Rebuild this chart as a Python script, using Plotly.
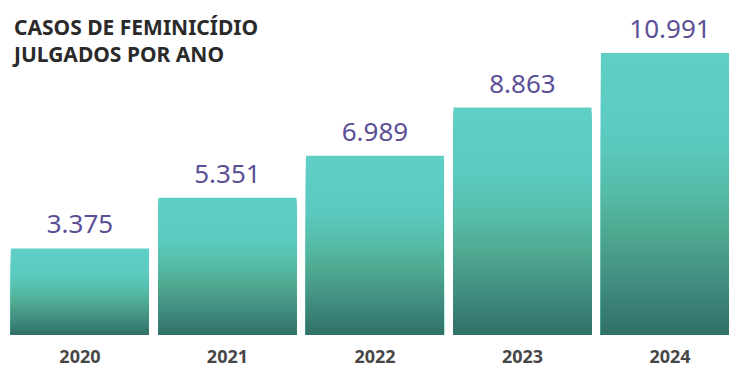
import plotly.graph_objects as go

years = ["2020", "2021", "2022", "2023", "2024"]
cases = [3375, 5351, 6989, 8863, 10991]
labels = ["3.375", "5.351", "6.989", "8.863", "10.991"]

# gradient stops: fraction from top of bar -> colour
stops = [(0.0, (95, 207, 198)), (0.3, (92, 202, 192)), (0.5, (85, 187, 166)),
         (0.65, (78, 166, 142)), (0.8, (67, 143, 130)), (1.0, (48, 112, 102))]

def color_at(f):
    for (f0, c0), (f1, c1) in zip(stops[:-1], stops[1:]):
        if f0 <= f <= f1:
            t = (f - f0) / (f1 - f0) if f1 > f0 else 0
            c = [round(a + (b - a) * t) for a, b in zip(c0, c1)]
            return "rgb(%d,%d,%d)" % tuple(c)
    return "rgb(%d,%d,%d)" % stops[-1][1]

N = 60
fig = go.Figure()
xs = list(range(len(years)))
# nested bars: full bar first (top colour), progressively shorter darker ones on top
for j in range(N):
    share = (N - j) / N
    fig.add_trace(go.Bar(
        x=xs,
        y=[v * share for v in cases],
        marker=dict(color=color_at((j + 0.5) / N), line=dict(width=0)),
        width=0.936, hoverinfo="skip", showlegend=False,
    ))

fig.add_trace(go.Scatter(
    x=xs, y=cases, mode="markers+text",
    marker=dict(size=12, color="rgba(0,0,0,0)"),
    text=labels, textposition="top center", cliponaxis=False,
    textfont=dict(family="Noto Sans", size=26, color="#5b4f96"),
    showlegend=False, hoverinfo="skip",
))

fig.update_layout(
    width=729, height=369,
    margin=dict(l=0, r=0, t=0, b=34),
    paper_bgcolor="white", plot_bgcolor="white",
    barmode="overlay",
    xaxis=dict(range=[-0.542, 4.4], tickmode="array", tickvals=xs, ticktext=years,
               showgrid=False, zeroline=False, showline=False, ticks="",
               automargin=False, ticklabelstandoff=9,
               tickfont=dict(family="Noto Sans", size=18, color="#474747", weight="bold")),
    yaxis=dict(range=[0, 13057], visible=False, automargin=False),
    annotations=[dict(
        text="CASOS DE FEMINICÍDIO<br>JULGADOS POR ANO",
        xref="paper", yref="paper", x=10 / 729, y=1 - 11 / 335,
        xanchor="left", yanchor="top", align="left", showarrow=False,
        font=dict(family="Noto Sans", size=21, color="#2a2a2a", weight="bold"),
    )],
)

fig.write_html("out.html")
